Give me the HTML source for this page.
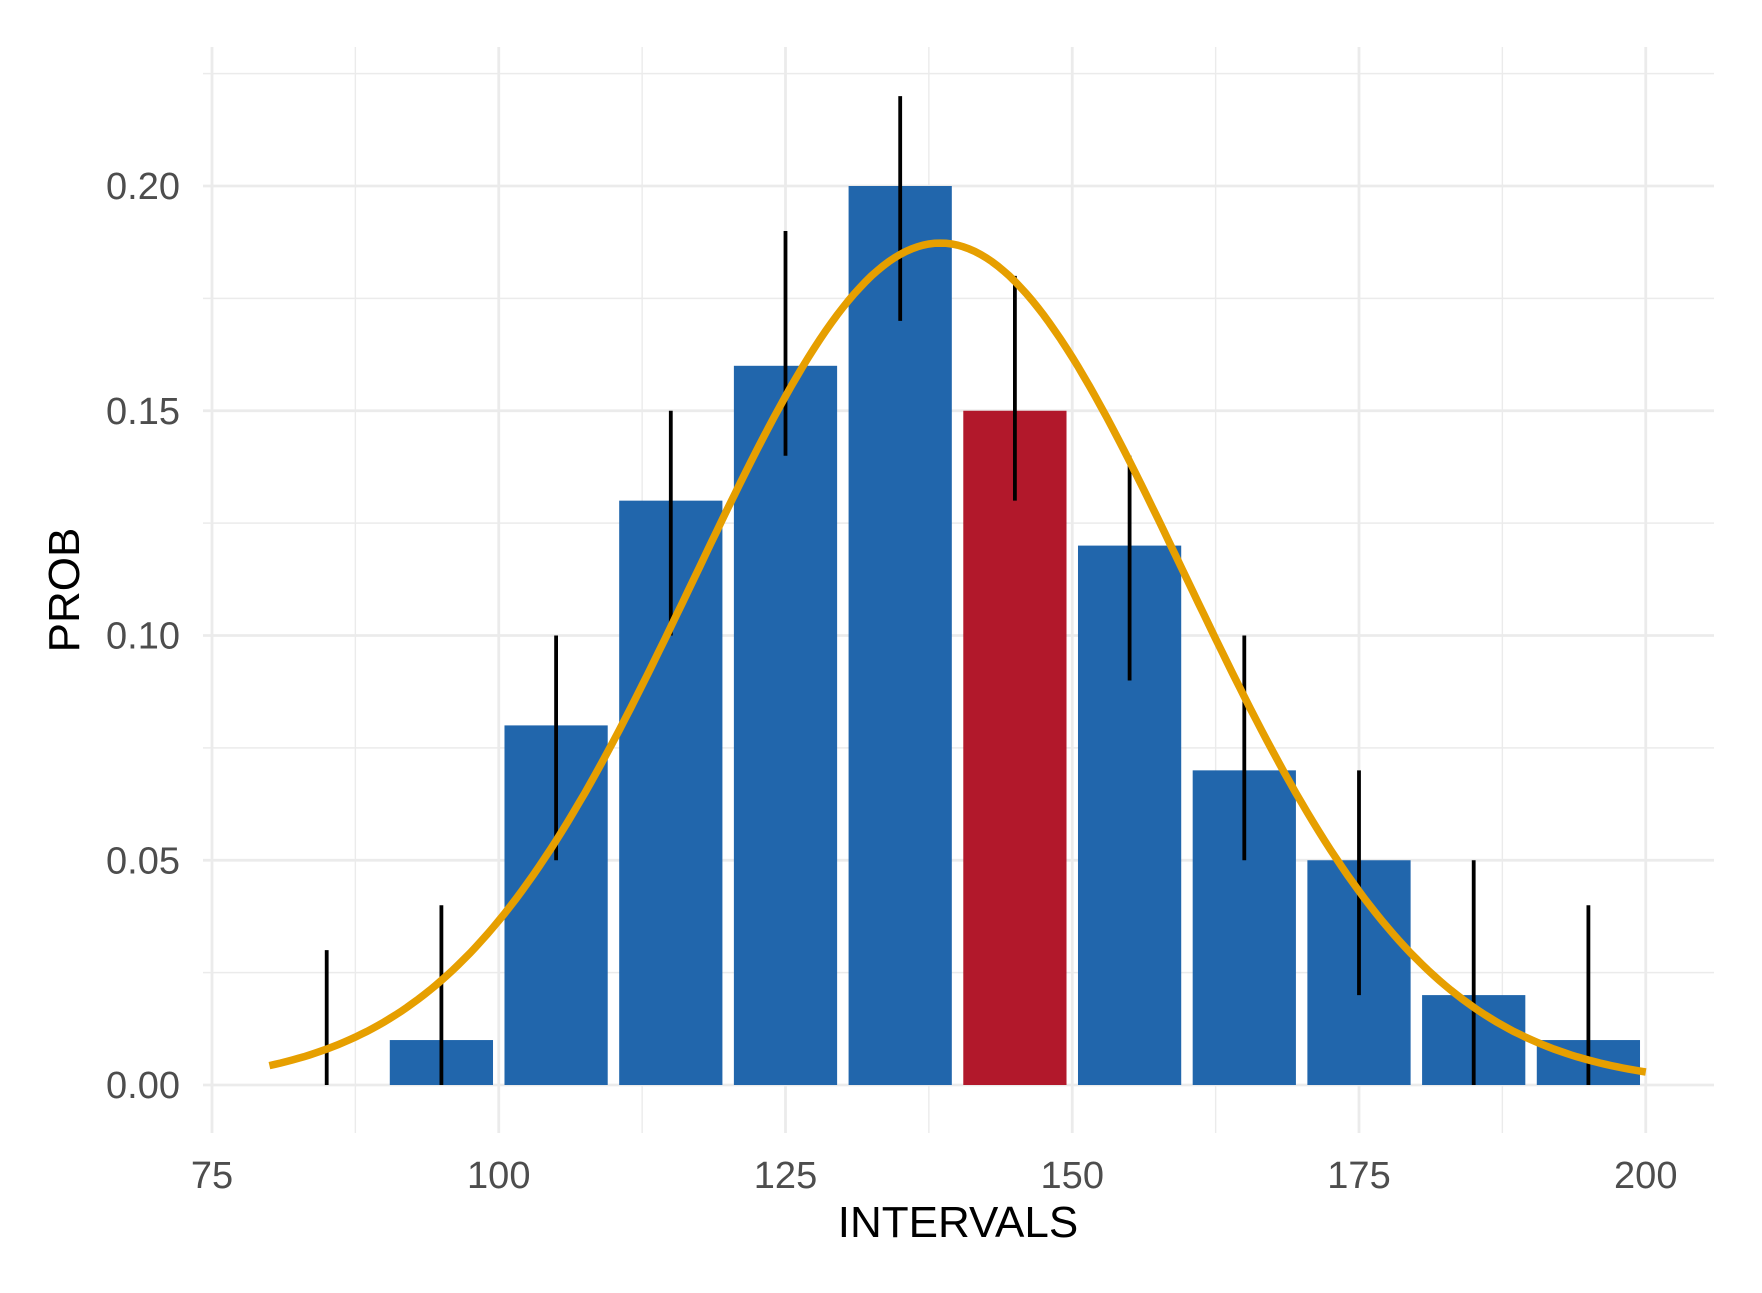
<!DOCTYPE html>
<html><head><meta charset="utf-8"><style>
body{margin:0;background:#fff}
svg{display:block;font-family:"Liberation Sans",Arial,sans-serif}
</style></head><body>
<svg id="chart" width="1762" height="1293" viewBox="0 0 1762 1293" xmlns="http://www.w3.org/2000/svg">
<g id="grid"></g>
<g id="bars"></g>
<g id="errs"></g>
<g id="curve"></g>
<g id="axes"></g>
<text x="958" y="1237" font-size="44" text-anchor="middle" fill="#000">INTERVALS</text>
<text transform="translate(79,590) rotate(-90)" font-size="44" text-anchor="middle" fill="#000">PROB</text>
</svg>
<script>
const categories = [85,95,105,115,125,135,145,155,165,175,185,195];
const probs = [0,0.01,0.08,0.13,0.16,0.20,0.15,0.12,0.07,0.05,0.02,0.01];
const errLow = [0,0,0.05,0.10,0.14,0.17,0.13,0.09,0.05,0.02,0,0];
const errHigh = [0.03,0.04,0.10,0.15,0.19,0.22,0.18,0.14,0.10,0.07,0.05,0.04];
const highlight = [145];
const curveMean = 138.5;
const curveSd = 21.3;
const binWidth = 10;
const xTicks = [75,100,125,150,175,200];
const yTicks = [0,0.05,0.10,0.15,0.20];
const yTickLabels = ["0.00","0.05","0.10","0.15","0.20"];

const NS="http://www.w3.org/2000/svg";
const X0=212, XS=11.47, Y0=1085, YS=4495;
const L=203, R=1714, T=47, B=1133;
const sx=v=>X0+(v-75)*XS, sy=v=>Y0-v*YS;
function mk(parent,tag,attrs){const e=document.createElementNS(NS,tag);for(const k in attrs)e.setAttribute(k,attrs[k]);document.getElementById(parent).appendChild(e);return e;}

for(let i=0;i<xTicks.length;i++){
  const e=mk('grid','line',{x1:sx(xTicks[i]),x2:sx(xTicks[i]),y1:T,y2:B,stroke:'#ebebeb','stroke-width':2.8});
  
  
  if(i<xTicks.length-1){
    const m=(xTicks[i]+xTicks[i+1])/2;
    const f=mk('grid','line',{x1:sx(m),x2:sx(m),y1:T,y2:B,stroke:'#ebebeb','stroke-width':1.4});
    
    
  }
}
const yMinor=[0.025,0.075,0.125,0.175,0.225];
yMinor.forEach(v=>{
  const f=mk('grid','line',{x1:L,x2:R,y1:sy(v),y2:sy(v),stroke:'#ebebeb','stroke-width':1.4});
  
  
});
yTicks.forEach(v=>{
  const e=mk('grid','line',{x1:L,x2:R,y1:sy(v),y2:sy(v),stroke:'#ebebeb','stroke-width':2.8});
  
  
});

categories.forEach((c,i)=>{
  if(probs[i]<=0) return;
  const w=binWidth*0.9*XS;
  const r=mk('bars','rect',{x:sx(c)-w/2,y:sy(probs[i]),width:w,height:sy(0)-sy(probs[i]),fill:highlight.includes(c)?'#B2182B':'#2166AC'});
  
  
});

categories.forEach((c,i)=>{
  const l=mk('errs','line',{x1:sx(c),x2:sx(c),y1:sy(errLow[i]),y2:sy(errHigh[i]),stroke:'#000','stroke-width':3.8});
  
  
});

let d='';
for(let x=80;x<=200;x+=0.5){
  const z=(x-curveMean)/curveSd;
  const y=binWidth*Math.exp(-z*z/2)/(curveSd*Math.sqrt(2*Math.PI));
  d+=(x===80?'M':'L')+sx(x).toFixed(1)+','+sy(y).toFixed(1);
}
const p=mk('curve','path',{d:d,fill:'none',stroke:'#E69F00','stroke-width':7.5});



xTicks.forEach(v=>{
  const t=mk('axes','text',{x:sx(v),y:1188,'font-size':38,'text-anchor':'middle',fill:'#4d4d4d'});
  t.textContent=v;
  
  
});
yTicks.forEach((v,i)=>{
  const t=mk('axes','text',{x:180,y:sy(v)+13,'font-size':38,'text-anchor':'end',fill:'#4d4d4d'});
  t.textContent=yTickLabels[i];
  
  
});
</script>
</body></html>
